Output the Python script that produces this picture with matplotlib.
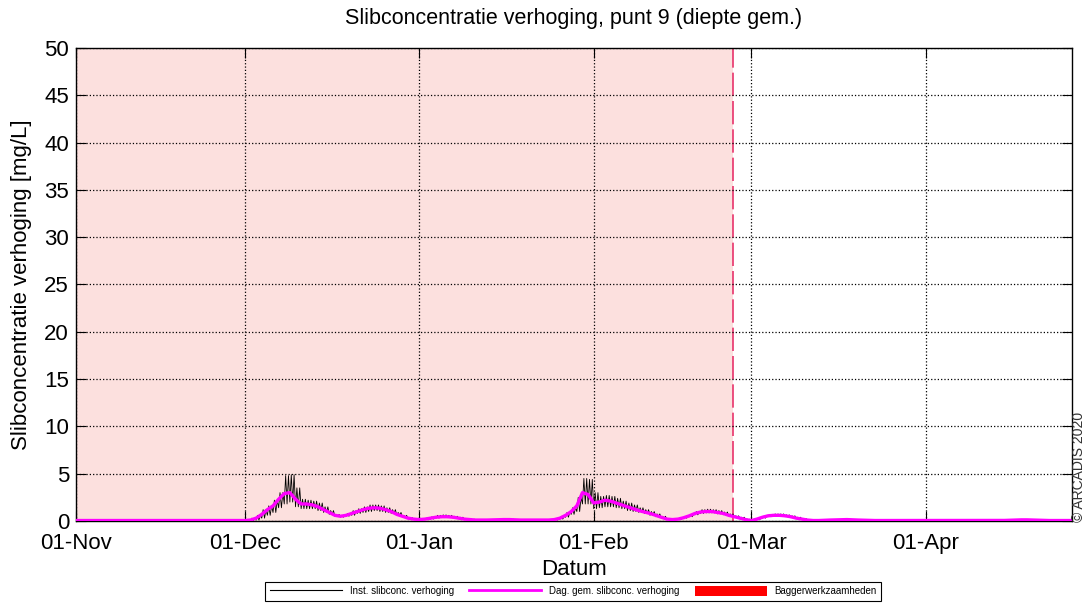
import numpy as np
import pandas as pd
import matplotlib
matplotlib.use('Agg')
import matplotlib.pyplot as plt
import matplotlib.dates as mdates
from matplotlib.lines import Line2D
from matplotlib.patches import Patch

plt.rcParams['font.family'] = ['Liberation Sans', 'DejaVu Sans']

### daily values, 01-Nov-2020 .. 27-Apr-2021
start = '2020-11-01'
days = pd.date_range(start, periods=178, freq='D')

# daggemiddelde slibconcentratie verhoging [mg/L]
daily_mean = [
    0.05, 0.05, 0.05, 0.05, 0.05, 0.05, 0.05, 0.05, 0.05, 0.05,
    0.05, 0.05, 0.05, 0.05, 0.05, 0.05, 0.05, 0.05, 0.05, 0.05,
    0.05, 0.05, 0.05, 0.05, 0.05, 0.05, 0.05, 0.05, 0.05, 0.05,
    0.05, 0.1, 0.3, 0.7, 1.2, 1.6, 2.3, 2.9, 3.0, 2.3,
    1.8, 1.8, 1.7, 1.5, 1.2, 0.9, 0.6, 0.5, 0.6, 0.8,
    1.0, 1.2, 1.35, 1.4, 1.35, 1.2, 1.0, 0.7, 0.5, 0.3,
    0.2, 0.15, 0.2, 0.3, 0.4, 0.45, 0.45, 0.4, 0.3, 0.2,
    0.15, 0.1, 0.1, 0.1, 0.12, 0.15, 0.15, 0.15, 0.12, 0.1,
    0.1, 0.1, 0.1, 0.1, 0.1, 0.15, 0.3, 0.6, 1.0, 1.6,
    3.0, 2.8, 1.9, 2.0, 2.2, 2.1, 1.9, 1.7, 1.5, 1.3,
    1.1, 0.95, 0.8, 0.6, 0.4, 0.2, 0.15, 0.2, 0.35, 0.55,
    0.8, 0.95, 1.0, 1.0, 0.9, 0.8, 0.6, 0.45, 0.3, 0.15,
    0.05, 0.2, 0.4, 0.55, 0.6, 0.6, 0.55, 0.45, 0.3, 0.2,
    0.1, 0.05, 0.05, 0.08, 0.1, 0.12, 0.15, 0.15, 0.12, 0.1,
    0.08, 0.05, 0.05, 0.05, 0.05, 0.05, 0.05, 0.05, 0.05, 0.05,
    0.05, 0.05, 0.05, 0.05, 0.05, 0.05, 0.05, 0.05, 0.05, 0.05,
    0.05, 0.05, 0.05, 0.05, 0.05, 0.06, 0.08, 0.1, 0.12, 0.12,
    0.1, 0.08, 0.06, 0.05, 0.05, 0.05, 0.05, 0.05,
]

# getij-minimum en -maximum van de instantane waarden per dag (tot 09-Mar)
inst_low = [
    0.05, 0.05, 0.05, 0.05, 0.05, 0.05, 0.05, 0.05, 0.05, 0.05,
    0.05, 0.05, 0.05, 0.05, 0.05, 0.05, 0.05, 0.05, 0.05, 0.05,
    0.05, 0.05, 0.05, 0.05, 0.05, 0.05, 0.05, 0.05, 0.05, 0.05,
    0.05, 0.05, 0.1, 0.3, 0.6, 0.9, 1.4, 1.8, 2.0, 1.5,
    1.3, 1.3, 1.3, 1.1, 0.9, 0.7, 0.5, 0.4, 0.5, 0.6,
    0.8, 0.9, 1.0, 1.1, 1.0, 0.9, 0.8, 0.6, 0.4, 0.25,
    0.15, 0.1, 0.15, 0.2, 0.3, 0.35, 0.35, 0.3, 0.25, 0.15,
    0.1, 0.05, 0.05, 0.05, 0.08, 0.1, 0.1, 0.1, 0.08, 0.05,
    0.05, 0.05, 0.05, 0.05, 0.05, 0.1, 0.2, 0.4, 0.7, 1.0,
    1.8, 1.8, 1.3, 1.4, 1.5, 1.5, 1.4, 1.3, 1.1, 1.0,
    0.9, 0.8, 0.6, 0.45, 0.3, 0.15, 0.1, 0.15, 0.3, 0.45,
    0.65, 0.8, 0.85, 0.85, 0.75, 0.65, 0.5, 0.35, 0.25, 0.1,
    0.05, 0.15, 0.3, 0.45, 0.5, 0.5, 0.45, 0.35, 0.25, 0.15,
] + daily_mean[130:]

inst_high = [
    0.05, 0.05, 0.05, 0.05, 0.05, 0.05, 0.05, 0.05, 0.05, 0.05,
    0.05, 0.05, 0.05, 0.05, 0.05, 0.05, 0.05, 0.05, 0.05, 0.05,
    0.05, 0.05, 0.05, 0.05, 0.05, 0.05, 0.05, 0.05, 0.05, 0.05,
    0.1, 0.3, 0.6, 1.2, 1.6, 2.2, 3.0, 4.8, 4.9, 3.5,
    2.3, 2.2, 2.1, 1.9, 1.5, 1.1, 0.7, 0.6, 0.8, 1.1,
    1.3, 1.5, 1.7, 1.7, 1.6, 1.4, 1.2, 0.9, 0.6, 0.35,
    0.25, 0.2, 0.3, 0.45, 0.6, 0.65, 0.6, 0.5, 0.4, 0.25,
    0.2, 0.15, 0.15, 0.15, 0.15, 0.2, 0.2, 0.2, 0.15, 0.15,
    0.15, 0.15, 0.15, 0.15, 0.15, 0.2, 0.5, 0.9, 1.4, 2.5,
    4.5, 4.4, 3.0, 2.6, 2.7, 2.6, 2.4, 2.1, 1.9, 1.7,
    1.4, 1.2, 1.0, 0.75, 0.5, 0.25, 0.2, 0.3, 0.45, 0.7,
    1.0, 1.2, 1.25, 1.2, 1.1, 0.95, 0.75, 0.55, 0.4, 0.2,
    0.1, 0.3, 0.5, 0.7, 0.75, 0.75, 0.65, 0.55, 0.4, 0.25,
] + daily_mean[130:]

dredging_start = '2020-11-01'
dredging_end = '2021-02-25 16:00'

# two tides a day: low / high every 6 hours
inst_t = pd.date_range(start, periods=len(days) * 4, freq='6h')
inst_v = np.ravel(np.column_stack([inst_low, inst_high, inst_low, inst_high]))

#################################
### figure
#################################
fig = plt.figure(figsize=(10.88, 6.03), dpi=100)
ax = fig.add_axes([0.0699, 0.136, 0.9154, 0.7844])

ax.axvspan(pd.Timestamp(dredging_start), pd.Timestamp(dredging_end),
           color='#fce0de', lw=0, zorder=0)
ax.axvline(pd.Timestamp(dredging_end), color='#e8336b', lw=1.2,
           dashes=(14, 3), zorder=1)

ax.plot(inst_t, inst_v, c='k', lw=0.6, zorder=3)
ax.plot(days, daily_mean, c='#ff00ff', lw=2.4, zorder=4)

ax.set_xlim(pd.Timestamp('2020-11-01'), pd.Timestamp('2021-04-27'))
ax.set_ylim(0, 50)
ax.set_yticks(np.arange(0, 51, 5))
ax.xaxis.set_major_locator(mdates.MonthLocator(bymonthday=1))
ax.xaxis.set_major_formatter(mdates.DateFormatter('%d-%b'))

ax.grid(True, ls=':', c='k', lw=0.9)
ax.tick_params(direction='in', length=7, top=True, right=True,
               labelsize=16, colors='k')
ax.tick_params(axis='y', pad=5)
ax.tick_params(axis='x', pad=9)
for s in ax.spines.values():
    s.set_linewidth(1.0)

ax.set_title('Slibconcentratie verhoging, punt 9 (diepte gem.)',
             fontsize=15.5, pad=17)
ax.set_xlabel('Datum', fontsize=16, labelpad=3)
ax.set_ylabel('Slibconcentratie verhoging [mg/L]', fontsize=16, labelpad=9)

fig.text(0.9915, 0.135, '\u00a9 ARCADIS 2020', rotation=90, fontsize=10,
         ha='center', va='bottom', color='#333333')

handles = [Line2D([], [], c='k', lw=0.8),
           Line2D([], [], c='#ff00ff', lw=2),
           Patch(fc='#ff0000', ec='none')]
labels = ['Inst. slibconc. verhoging', 'Dag. gem. slibconc. verhoging',
          'Baggerwerkzaamheden']
leg = fig.legend(handles, labels, loc='center', ncol=3,
                 bbox_to_anchor=(0.527, 0.0195), fontsize=7,
                 handlelength=7.4, handleheight=1.1, columnspacing=1.6,
                 fancybox=False, edgecolor='k', borderpad=0.45,
                 handletextpad=0.8, framealpha=1)
leg.get_frame().set_linewidth(0.8)

fig.savefig('out.png', dpi=100)
